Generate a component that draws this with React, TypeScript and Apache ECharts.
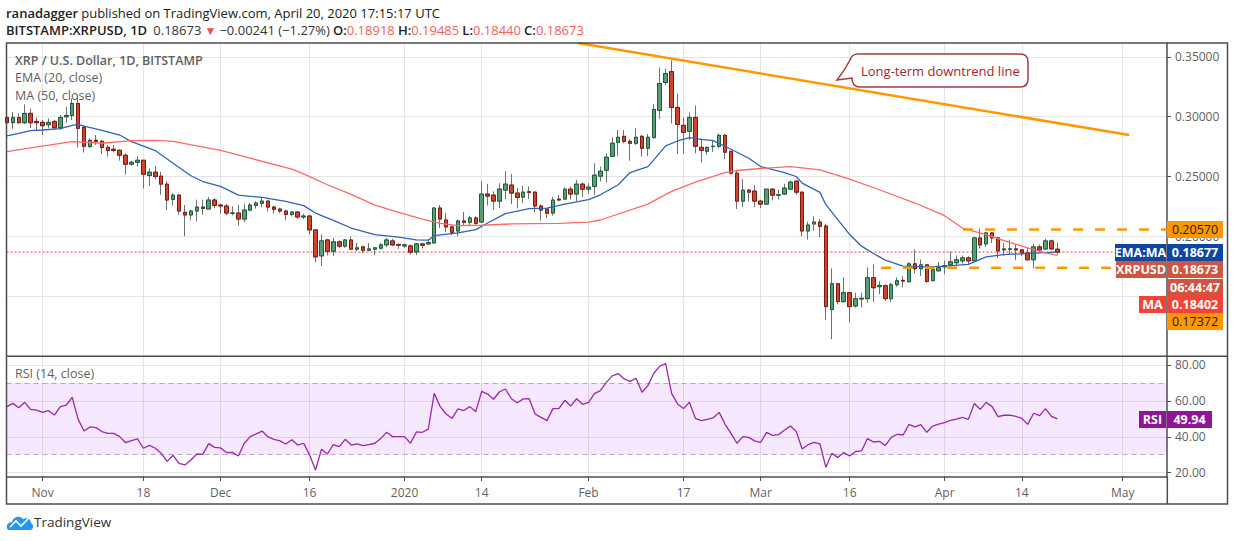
import React, { useEffect, useRef } from "react";
import * as echarts from "echarts";

const opens = [.2994,.2950,.2994,.2950,.3028,.2961,.2953,.2933,.2961,.2908,.3000,.3011,.3111,.2911,.2750,.2803,.2794,.2744,.2728,.2719,.2678,.2603,.2619,.2636,.2508,.2536,.2503,.2436,.2308,.2344,.2200,.2178,.2211,.2244,.2228,.2303,.2261,.2253,.2192,.2194,.2144,.2219,.2258,.2275,.2294,.2244,.2228,.2211,.2183,.2203,.2161,.2169,.2053,.1836,.1969,.1875,.1953,.1917,.1969,.1892,.1911,.1883,.1892,.1900,.1928,.1961,.1931,.1919,.1919,.1869,.1936,.1936,.1944,.2236,.2136,.2078,.2044,.2128,.2117,.2153,.2119,.2353,.2344,.2294,.2386,.2428,.2361,.2328,.2372,.2369,.2253,.2228,.2194,.2311,.2311,.2394,.2353,.2436,.2394,.2417,.2503,.2553,.2669,.2786,.2836,.2794,.2778,.2836,.2736,.2825,.3053,.3286,.3378,.3078,.2928,.2878,.2994,.2744,.2711,.2750,.2753,.2844,.2711,.2528,.2294,.2386,.2378,.2294,.2269,.2394,.2344,.2353,.2394,.2461,.2369,.2044,.2103,.2119,.2086,.1386,.1603,.1453,.1528,.1417,.1475,.1478,.1653,.1578,.1586,.1478,.1594,.1631,.1619,.1769,.1728,.1761,.1628,.1711,.1744,.1761,.1778,.1794,.1819,.1794,.1986,.1936,.2028,.1986,.1886,.1892,.1894,.1886,.1861,.1803,.1911,.1894,.1961,.18918];
const closes = [.2950,.2994,.2950,.3028,.2950,.2950,.2925,.2953,.2908,.2994,.3011,.3111,.2903,.2753,.2803,.2792,.2742,.2717,.2717,.2678,.2603,.2619,.2636,.2519,.2536,.2500,.2436,.2303,.2344,.2211,.2178,.2211,.2244,.2233,.2303,.2258,.2253,.2194,.2194,.2144,.2219,.2261,.2278,.2294,.2244,.2225,.2211,.2183,.2203,.2161,.2169,.2053,.1828,.1961,.1872,.1953,.1917,.1969,.1892,.1903,.1883,.1894,.1903,.1928,.1969,.1928,.1925,.1928,.1867,.1936,.1925,.1947,.2236,.2144,.2078,.2033,.2128,.2117,.2153,.2108,.2353,.2336,.2294,.2394,.2436,.2361,.2325,.2369,.2367,.2253,.2219,.2192,.2303,.2303,.2394,.2353,.2436,.2394,.2411,.2511,.2544,.2661,.2778,.2828,.2794,.2778,.2828,.2736,.2828,.3061,.3278,.3361,.3078,.2936,.2869,.2994,.2753,.2719,.2744,.2753,.2844,.2703,.2528,.2294,.2386,.2369,.2294,.2269,.2394,.2344,.2347,.2403,.2453,.2369,.2044,.2094,.2119,.2083,.1411,.1603,.1453,.1528,.1411,.1478,.1481,.1653,.1569,.1589,.1478,.1594,.1628,.1625,.1769,.1728,.1761,.1622,.1719,.1736,.1753,.1786,.1803,.1819,.1794,.1986,.1928,.2028,.1986,.1878,.1894,.1894,.1886,.1861,.1803,.1911,.1886,.1961,.1894,.18673];
const lows = [.2939,.2897,.2944,.2939,.2906,.2883,.2847,.2903,.2894,.2889,.2950,.2972,.2742,.2700,.2742,.2764,.2689,.2667,.2700,.2633,.2517,.2592,.2583,.2400,.2422,.2478,.2347,.2219,.2256,.2181,.2000,.2133,.2125,.2181,.2228,.2236,.2189,.2175,.2175,.2089,.2117,.2208,.2231,.2242,.2208,.2189,.2194,.2133,.2167,.2147,.2144,.2014,.1783,.1750,.1839,.1833,.1903,.1903,.1886,.1875,.1861,.1875,.1842,.1889,.1911,.1917,.1894,.1903,.1847,.1842,.1897,.1925,.1939,.2069,.2033,.2008,.2000,.2089,.2089,.2097,.2111,.2256,.2222,.2236,.2311,.2269,.2233,.2278,.2311,.2200,.2131,.2153,.2172,.2294,.2306,.2306,.2294,.2328,.2353,.2347,.2458,.2450,.2667,.2672,.2778,.2633,.2764,.2667,.2672,.2819,.2981,.3264,.2944,.2689,.2689,.2806,.2694,.2617,.2683,.2706,.2736,.2644,.2517,.2228,.2244,.2292,.2244,.2236,.2264,.2300,.2306,.2344,.2389,.2347,.2000,.1972,.2047,.1992,.1300,.1139,.1431,.1444,.1278,.1403,.1403,.1444,.1450,.1514,.1458,.1450,.1578,.1572,.1617,.1689,.1667,.1611,.1625,.1706,.1681,.1736,.1750,.1772,.1764,.1792,.1897,.1911,.1944,.1817,.1839,.1847,.1800,.1833,.1797,.1731,.1875,.1883,.1889,.18440];
const highs = [.3011,.3039,.3028,.3103,.3069,.2994,.2972,.2986,.2972,.3014,.3083,.3153,.3167,.2931,.2819,.2847,.2806,.2764,.2764,.2728,.2694,.2633,.2672,.2636,.2569,.2589,.2539,.2461,.2361,.2356,.2261,.2222,.2306,.2306,.2328,.2319,.2269,.2269,.2250,.2264,.2272,.2278,.2292,.2328,.2306,.2256,.2239,.2222,.2208,.2208,.2189,.2181,.2053,.2014,.1978,.1986,.1967,.1978,.1997,.1944,.1922,.1944,.1911,.1944,.1986,.1978,.1939,.1939,.1931,.1944,.1944,.1978,.2244,.2261,.2194,.2097,.2139,.2203,.2172,.2167,.2461,.2439,.2375,.2444,.2544,.2522,.2403,.2422,.2417,.2375,.2267,.2236,.2328,.2347,.2408,.2417,.2472,.2450,.2444,.2611,.2583,.2694,.2828,.2889,.2889,.2811,.2903,.2847,.2856,.3106,.3411,.3403,.3472,.3194,.2994,.3036,.3094,.2817,.2750,.2806,.2861,.2856,.2711,.2556,.2478,.2394,.2428,.2306,.2394,.2403,.2389,.2439,.2467,.2467,.2369,.2122,.2167,.2144,.2106,.1731,.1603,.1656,.1528,.1528,.1528,.1739,.1764,.1625,.1597,.1611,.1656,.1667,.1783,.1889,.1806,.1764,.1736,.1783,.1797,.1872,.1839,.1839,.1833,.1994,.2064,.2036,.2033,.1994,.1944,.1972,.1931,.1894,.1903,.1939,.1931,.1978,.1972,.19485];
const rsiValues = [56.8,58.6,56.2,59.2,55.3,54.9,53.6,54.6,52.1,56.8,57.7,62.0,49.7,43.2,45.5,45.1,42.9,41.9,41.9,40.1,36.7,37.8,38.8,33.6,35.2,33.6,30.8,26.3,29.7,25.2,24.3,27.1,30.4,30.2,36.2,34.1,33.8,31.2,31.3,29.3,36.4,40.1,41.6,43.2,39.9,38.6,37.7,36.0,38.4,35.4,36.4,29.9,21.5,33.0,30.4,35.6,34.5,38.6,35.4,36.0,35.1,35.6,36.4,39.1,42.5,40.1,40.1,40.1,36.4,42.7,42.5,44.3,64.2,56.8,52.7,50.3,55.5,54.6,56.8,54.0,65.3,63.8,60.9,65.1,66.6,61.2,59.0,61.1,61.2,52.7,50.8,49.0,55.7,55.7,60.3,57.2,61.2,58.1,59.2,64.0,65.7,70.3,73.9,75.2,72.2,70.9,72.6,64.8,68.5,75.4,79.4,80.7,64.2,58.3,55.7,59.2,50.3,49.0,49.7,50.5,53.6,47.1,41.9,36.4,40.1,39.7,37.7,36.9,42.5,40.8,41.2,43.6,46.0,42.9,33.2,35.6,36.9,36.0,23.0,30.8,28.4,31.2,29.3,31.8,32.1,39.0,37.1,37.5,35.1,39.7,41.4,41.0,46.9,45.5,46.8,42.5,46.0,47.1,47.9,49.2,49.9,50.8,49.7,58.5,55.3,59.2,56.8,51.2,52.0,52.1,51.4,50.3,46.9,53.1,51.8,55.7,51.4,49.94];

const emaDays = [0,2,4,6,9,11,12,13,16,19,21,25,28,31,33,36,39,43,47,50,52,55,58,62,66,69,71,72,76,79,81,84,88,91,94,98,100,103,105,108,109,111,113,115,117,119,122,125,127,131,133,134,137,138,140,142,144,146,148,151,155,158,162,165,168,171,174,177];
const emaValues = [.2839,.2861,.2883,.2889,.2900,.2928,.2936,.2922,.2886,.2847,.2792,.2717,.2611,.2506,.2458,.2417,.2344,.2325,.2292,.2256,.2194,.2133,.2069,.2014,.1992,.1969,.1967,.2006,.2028,.2056,.2111,.2189,.2231,.2236,.2269,.2306,.2347,.2431,.2533,.2583,.2639,.2756,.2797,.2825,.2811,.2800,.2728,.2653,.2583,.2533,.2500,.2444,.2367,.2264,.2139,.2014,.1917,.1856,.1800,.1750,.1744,.1750,.1764,.1828,.1847,.1853,.1861,.18677];
const maDays = [0,4,11,16,21,25,28,32,36,41,48,50,54,58,62,66,70,73,76,80,85,93,98,100,108,112,116,121,123,127,132,137,142,147,153,158,161,165,168,172,175,177];
const maValues = [.2708,.2739,.2792,.2778,.2800,.2803,.2794,.2756,.2719,.2653,.2561,.2522,.2431,.2350,.2261,.2200,.2144,.2108,.2089,.2092,.2103,.2108,.2119,.2136,.2269,.2375,.2453,.2533,.2550,.2567,.2583,.2556,.2478,.2389,.2278,.2172,.2069,.2014,.1964,.1903,.1861,.18402];

const downtrendDays = [96.2, 189.1];
const downtrendValues = [0.3617, 0.2847];
const resistanceDays = [161.1, 195.5];
const resistanceValue = 0.2057;
const supportDays = [147.3, 186.8];
const supportValue = 0.17372;
const lastClose = 0.18673;

const tickDays = [6, 23, 36, 51, 67, 80, 98, 114, 127, 142, 158, 171, 188];
const tickLabels = ["Nov", "18", "Dec", "16", "2020", "14", "Feb", "17", "Mar", "16", "Apr", "14", "May"];
const priceTicks = [0.15, 0.2, 0.25, 0.3, 0.35];
const priceLabels = [0.2, 0.25, 0.3, 0.35];
const rsiTicks = [20, 40, 60, 80];

const FONT = '"Open Sans", sans-serif';
const GRID = "#e5e5e5";
const DARK = "#4d4d4d";
const GRAY = "#5f5f5f";
const RED_T = "#f4605c";

const X_MIN = -0.07;
const X_MAX = 195.47;

const CALLOUT = "M8 0 H170 Q178 0 178 8 V25 Q178 33 170 33 H10 Q2 33 2 24 L-13 26 Q-5 16 0 6 Q2 0 8 0 Z";
const LOGO = "M2 15 C-1 11 2 7 6 7 C7 2 14 0 17 4 C20 2 25 4 25 8 C28 9 28 15 24 15 Z";
echarts.graphic.registerShape("callout", echarts.graphic.extendPath(CALLOUT, {}));
echarts.graphic.registerShape("tvlogo", echarts.graphic.extendPath(LOGO, {}));

type Tag = { text: string; x: number; y: number; w: number; bg: string; fg: string; bold: boolean };
const H = 17;
const tags: Tag[] = [
  { text: "0.20570", x: 1167, y: 221, w: 56, bg: "#ff9800", fg: "#1a1a1a", bold: false },
  { text: "EMA:MA", x: 1115, y: 244, w: 51, bg: "#0d47a1", fg: "#ffffff", bold: true },
  { text: "0.18677", x: 1167, y: 244, w: 56, bg: "#0d47a1", fg: "#ffffff", bold: true },
  { text: "XRPUSD", x: 1116, y: 261, w: 50, bg: "#d05540", fg: "#ffffff", bold: true },
  { text: "0.18673", x: 1167, y: 261, w: 56, bg: "#d05540", fg: "#ffffff", bold: true },
  { text: "06:44:47", x: 1167, y: 279, w: 56, bg: "#d05540", fg: "#ffffff", bold: true },
  { text: "MA", x: 1139, y: 296, w: 27, bg: "#f44336", fg: "#ffffff", bold: true },
  { text: "0.18402", x: 1167, y: 296, w: 56, bg: "#f44336", fg: "#ffffff", bold: true },
  { text: "0.17372", x: 1167, y: 313, w: 56, bg: "#ff9800", fg: "#1a1a1a", bold: false },
  { text: "RSI", x: 1139, y: 411, w: 27, bg: "#8e1599", fg: "#ffffff", bold: true },
  { text: "49.94", x: 1167, y: 411, w: 45, bg: "#8e1599", fg: "#ffffff", bold: true },
];

function tagElements() {
  const out: any[] = [];
  for (const t of tags) {
    out.push({ type: "rect", z: 100, shape: { x: t.x, y: t.y, width: t.w, height: H }, style: { fill: t.bg } });
    out.push({
      type: "text", z: 101, x: t.x + t.w / 2, y: t.y + H / 2,
      style: { text: t.text, fill: t.fg, align: "center", verticalAlign: "middle", fontFamily: FONT, fontSize: 12.5, fontWeight: t.bold ? 700 : 400 },
    });
  }
  return out;
}

function overlayText(text: string, x: number, y: number, weight = 400) {
  return {
    type: "text", z: 90, x, y,
    style: { text, fill: GRAY, verticalAlign: "middle", fontFamily: FONT, fontSize: 12.5, fontWeight: weight },
  };
}

function buildOption(): any {
  const days = opens.map((_, i) => i);
  const full = days.map((i) => [i, opens[i], closes[i], lows[i], highs[i]]);
  const bodies = days.map((i) => [i, opens[i], closes[i], Math.min(opens[i], closes[i]), Math.max(opens[i], closes[i])]);
  const xLabel = (v: number) => tickLabels[tickDays.indexOf(Math.round(v))] ?? "";
  const axisFont = { fontFamily: FONT, fontSize: 12, color: GRAY };
  const plain = { type: "line", xAxisIndex: 0, yAxisIndex: 0, showSymbol: false, symbol: "none", silent: true };

  return {
    animation: false,
    backgroundColor: "#ffffff",
    grid: [
      { left: 6.5, right: 67, top: 43, height: 313 },
      { left: 6.5, right: 67, top: 356, height: 121 },
    ],
    xAxis: [
      {
        type: "value", gridIndex: 0, min: X_MIN, max: X_MAX, scale: true,
        axisLine: { show: false },
        axisTick: { show: false, customValues: tickDays },
        axisLabel: { show: false, customValues: tickDays },
        splitLine: { show: true, lineStyle: { color: GRID, width: 1 } },
      },
      {
        type: "value", gridIndex: 1, min: X_MIN, max: X_MAX, scale: true,
        axisLine: { show: true, onZero: false, lineStyle: { color: DARK, width: 1.5 } },
        axisTick: { show: true, length: 4, customValues: tickDays, lineStyle: { color: DARK } },
        axisLabel: { show: true, customValues: tickDays, formatter: xLabel, margin: 9, hideOverlap: false, showMinLabel: true, showMaxLabel: true, ...axisFont },
        splitLine: { show: true, lineStyle: { color: GRID, width: 1 } },
      },
    ],
    yAxis: [
      {
        type: "value", gridIndex: 0, position: "right", min: 0.0998, max: 0.3617, scale: true,
        axisLine: { show: true, onZero: false, lineStyle: { color: DARK, width: 1.5 } },
        axisTick: { show: true, length: 4, customValues: priceTicks, lineStyle: { color: DARK } },
        axisLabel: { show: true, customValues: priceLabels, formatter: (v: number) => v.toFixed(5), margin: 8, ...axisFont },
        splitLine: { show: true, lineStyle: { color: GRID, width: 1 } },
      },
      {
        type: "value", gridIndex: 1, position: "right", min: 17.6, max: 85, scale: true,
        axisLine: { show: true, onZero: false, lineStyle: { color: DARK, width: 1.5 } },
        axisTick: { show: true, length: 4, customValues: rsiTicks, lineStyle: { color: DARK } },
        axisLabel: { show: true, customValues: rsiTicks, formatter: (v: number) => v.toFixed(2), margin: 8, ...axisFont },
        splitLine: { show: true, lineStyle: { color: GRID, width: 1 } },
      },
    ],
    series: [
      {
        ...plain, name: "Last close", z: 2,
        data: [[X_MIN, lastClose], [X_MAX, lastClose]],
        lineStyle: { color: "#e53935", width: 1, type: [2, 2] },
      },
      {
        type: "candlestick", name: "XRP wicks", xAxisIndex: 0, yAxisIndex: 0, barWidth: 4, z: 3, silent: true,
        data: full,
        itemStyle: { color: "#5b9c78", color0: "#d0442f", borderColor: "#707070", borderColor0: "#707070", borderWidth: 1 },
      },
      {
        type: "candlestick", name: "XRP bodies", xAxisIndex: 0, yAxisIndex: 0, barWidth: 4, z: 4, silent: true,
        data: bodies,
        itemStyle: { color: "#5b9c78", color0: "#d0442f", borderColor: "#1d5c38", borderColor0: "#7b1a12", borderWidth: 1 },
      },
      { ...plain, name: "EMA", z: 5, data: emaDays.map((d, i) => [d, emaValues[i]]), lineStyle: { color: "#2f62b8", width: 1.3 } },
      { ...plain, name: "MA", z: 5, data: maDays.map((d, i) => [d, maValues[i]]), lineStyle: { color: "#fb6a68", width: 1.3 } },
      { ...plain, name: "Downtrend", z: 6, data: downtrendDays.map((d, i) => [d, downtrendValues[i]]), lineStyle: { color: "#ff9800", width: 2.5 } },
      { ...plain, name: "Resistance", z: 6, data: resistanceDays.map((d) => [d, resistanceValue]), lineStyle: { color: "#ff9800", width: 2.5, type: [10, 12] } },
      { ...plain, name: "Support", z: 6, data: supportDays.map((d) => [d, supportValue]), lineStyle: { color: "#ff9800", width: 2.5, type: [10, 12] } },
      {
        ...plain, name: "RSI", xAxisIndex: 1, yAxisIndex: 1, z: 5,
        data: rsiValues.map((v, i) => [i, v]),
        lineStyle: { color: "#9c27b0", width: 1.3 },
        markArea: { silent: true, itemStyle: { color: "rgba(153,30,255,0.10)" }, data: [[{ yAxis: 70 }, { yAxis: 30 }]] },
        markLine: {
          silent: true, symbol: "none", label: { show: false },
          lineStyle: { color: "#b3a9b8", type: [5, 4], width: 1 },
          data: [{ yAxis: 70 }, { yAxis: 30 }],
        },
      },
    ],
    graphic: {
      elements: [
        {
          type: "text", z: 90, x: 6, y: 13,
          style: {
            text: "{b|ranadagger} {n|published on TradingView.com, April 20, 2020 17:15:17 UTC}",
            verticalAlign: "middle", fontFamily: FONT,
            rich: {
              b: { fontFamily: FONT, fontSize: 13, fontWeight: 600, fill: "#222222" },
              n: { fontFamily: FONT, fontSize: 13, fontWeight: 400, fill: "#222222" },
            },
          },
        },
        {
          type: "text", z: 90, x: 6, y: 30,
          style: {
            text: "{b|BITSTAMP:XRPUSD, 1D}  {n|0.18673} {t|▼} {n|−0.00241 (−1.27%)} {b|O:}{r|0.18918} {b|H:}{r|0.19485} {b|L:}{r|0.18440} {b|C:}{r|0.18673}",
            verticalAlign: "middle", fontFamily: FONT,
            rich: {
              b: { fontFamily: FONT, fontSize: 13, fontWeight: 600, fill: "#222222" },
              n: { fontFamily: FONT, fontSize: 13, fill: "#333333" },
              r: { fontFamily: FONT, fontSize: 13, fill: RED_T },
              t: { fontFamily: FONT, fontSize: 12, fill: "#ef4f4b" },
            },
          },
        },
        overlayText("XRP / U.S. Dollar, 1D, BITSTAMP", 15, 60, 600),
        overlayText("EMA (20, close)", 15, 77),
        overlayText("MA (50, close)", 15, 95),
        overlayText("RSI (14, close)", 15, 373),
        {
          type: "callout", z: 95, x: 850, y: 54,
          style: { fill: "#ffffff", stroke: "#a83a3f", lineWidth: 1.5 },
        },
        {
          type: "text", z: 96, x: 861, y: 70.5,
          style: { text: "Long-term downtrend line", fill: "#a3262c", verticalAlign: "middle", fontFamily: FONT, fontSize: 13 },
        },
        { type: "rect", z: 89, shape: { x: 6.5, y: 43, width: 1221, height: 461 }, style: { fill: "none", stroke: DARK, lineWidth: 1.5 } },
        { type: "line", z: 89, shape: { x1: 6.5, y1: 356.2, x2: 1227.5, y2: 356.2 }, style: { stroke: DARK, lineWidth: 1.5 } },
        { type: "line", z: 89, shape: { x1: 1167.3, y1: 477, x2: 1167.3, y2: 504 }, style: { stroke: DARK, lineWidth: 1.5 } },
        { type: "tvlogo", z: 90, x: 6, y: 515, style: { fill: "#2196f3" } },
        {
          type: "polyline", z: 91,
          shape: { points: [[10, 527], [16, 521], [21, 526], [28, 519]] },
          style: { stroke: "#ffffff", lineWidth: 1.6, fill: "none" },
        },
        {
          type: "text", z: 90, x: 34, y: 522,
          style: { text: "TradingView", fill: "#333333", verticalAlign: "middle", fontFamily: FONT, fontSize: 13.5 },
        },
        ...tagElements(),
      ],
    },
  };
}

export default function App() {
  const ref = useRef<HTMLDivElement>(null);
  useEffect(() => {
    if (!ref.current) return;
    const chart = echarts.init(ref.current, undefined, { renderer: "svg" });
    chart.setOption(buildOption());
    return () => chart.dispose();
  }, []);
  return <div ref={ref} style={{ position: "fixed", left: 0, top: 0, width: 1234, height: 541, background: "#fff" }} />;
}
